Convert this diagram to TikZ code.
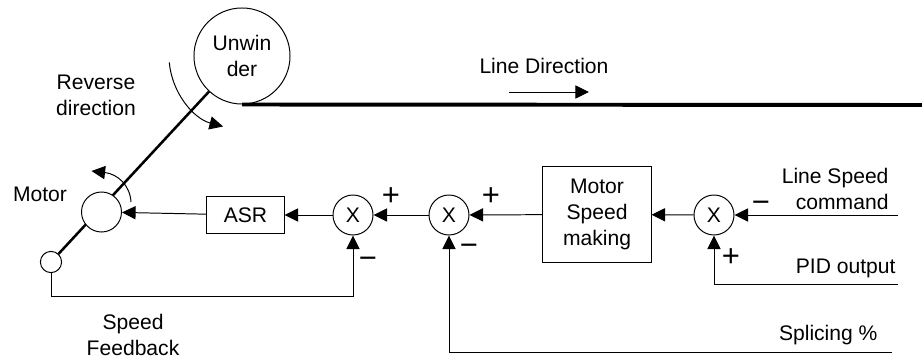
\documentclass[tikz,border=0pt]{standalone}
\usepackage{fontspec}
\setmainfont{Liberation Sans}
\usetikzlibrary{positioning,arrows.meta,calc}
\tikzset{
    unwroll/.style={draw, circle, minimum size=2.4cm, inner sep=0pt, align=center, fill=white},
    unwmotor/.style={draw, circle, minimum size=1.0cm, inner sep=0pt, fill=white},
    unwsensor/.style={draw, circle, minimum size=0.53cm, inner sep=0pt, fill=white},
    unwsum/.style={draw, circle, minimum size=1.0cm, inner sep=0pt, fill=white},
    unwblock/.style={draw, rectangle, align=center, inner sep=0pt, fill=white},
    unwarrow/.style={draw, -{Triangle[length=3.4mm, width=3.3mm]}, line width=0.7pt},
    unwshaft/.style={draw, line width=1.8pt},
    unwweb/.style={draw, line width=2.8pt, line cap=butt},
    unwlabel/.style={align=center, inner sep=0pt},
    unwsign/.style={inner sep=0pt, font=\fontsize{22}{22}\selectfont}
}

\begin{document}
\begin{tikzpicture}[x=0.025cm, y=-0.025cm, line width=0.7pt, font=\fontsize{15}{18.5}\selectfont]
    \useasboundingbox (0,0) rectangle (922,361);

    % roll, shaft and motor
    \node[unwroll] (unwinder) at (242,56) {Unwin\\der};
    \node[unwsensor] (encoder) at (51,262) {};
    \draw[unwshaft] (encoder) -- (unwinder);
    \node[unwmotor] (motor) at (101.5,212) {};
    \coordinate (webend) at (922,105);
    \draw[unwweb] (unwinder.south) -- (webend);

    % control loop
    \node[unwblock, minimum width=1.925cm, minimum height=0.925cm] (asr) at (245.5,215) {ASR};
    \node[unwsum] (sumasr) at (353,215) {X};
    \node[unwsum] (sumsplice) at (449,215) {X};
    \node[unwblock, minimum width=2.7cm, minimum height=2.375cm] (speedmaking) at (597,214.5) {Motor\\Speed\\making};
    \node[unwsum] (sumline) at (714,215) {X};

    \coordinate (linein) at (898,215);
    \coordinate (pidin) at (898,284);
    \coordinate (splicein) at (892,352);
    \coordinate (fbturn) at (353,296);

    \draw[unwarrow] (linein) -- (sumline);
    \draw[unwarrow] (pidin) -| (sumline);
    \draw[unwarrow] (sumline) -- (speedmaking);
    \draw[unwarrow] (speedmaking) -- (sumsplice);
    \draw[unwarrow] (splicein) -| (sumsplice);
    \draw[unwarrow] (sumsplice) -- (sumasr);
    \draw[unwarrow] (sumasr) -- (asr);
    \draw[unwarrow] (asr) -- (motor);
    \draw[unwarrow] (encoder) |- (fbturn) -- (sumasr);

    % rotation arrows
    \draw[unwarrow] ([shift={(175:73)}]unwinder.center) arc[start angle=175, end angle=105, radius=73];
    \draw[unwarrow] ([shift={(29.5,-10)}]motor.center) .. controls +(-1,-17) and +(26,3) .. ([shift={(-10,-41)}]motor.center);

    % line direction
    \coordinate (dirfrom) at (509,92);
    \coordinate (dirto) at (589,92);
    \draw[unwarrow] (dirfrom) -- (dirto);

    % labels
    \node[unwlabel] (linedir) at (544,66) {Line Direction};
    \node[unwlabel] (reverse) at (96,95) {Reverse\\direction};
    \node[unwlabel] (motorlabel) at (40,194) {Motor};
    \node[unwlabel] (feedback) at (133,335) {Speed\\Feedback};
    \node[unwlabel, align=right, anchor=east] (linespeed) at (889,189) {Line Speed\\command};
    \node[unwlabel, anchor=east] (pidlabel) at (896,268) {PID output};
    \node[unwlabel, anchor=east] (splicelabel) at (878,335) {Splicing \%};

    % signs
    \node[unwsign] (asrplus) at (391,197) {+};
    \node[unwsign] (asrminus) at (368,263) {−};
    \node[unwsign] (spliceplus) at (491,197) {+};
    \node[unwsign] (spliceminus) at (469,250) {−};
    \node[unwsign] (lineminus) at (761,207) {−};
    \node[unwsign] (lineplus) at (731,258) {+};
\end{tikzpicture}
\end{document}
